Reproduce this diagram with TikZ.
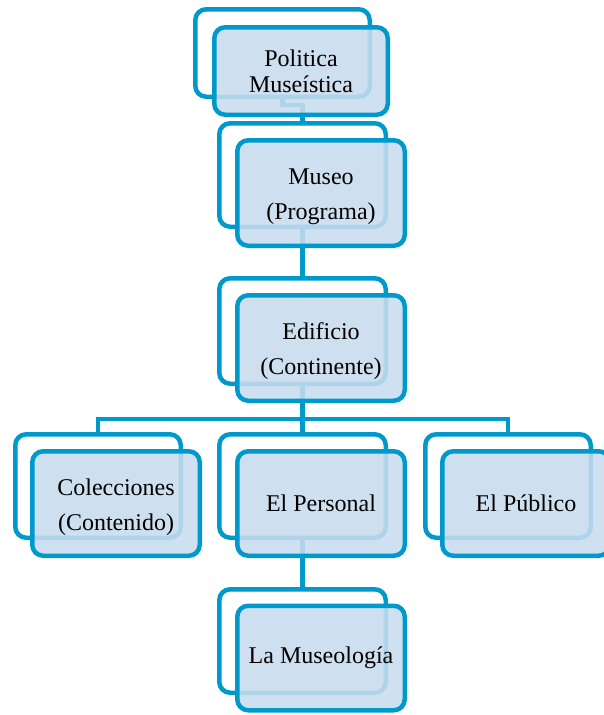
\documentclass[tikz,border=0pt]{standalone}
\usepackage{fontspec}
\setmainfont{Liberation Serif}
\definecolor{smblue}{RGB}{0,153,204}
\definecolor{smfill}{RGB}{200,220,238}
\newcommand{\twolines}[2]{\raisebox{-4pt}[\height][\depth]{\begin{tabular}{@{}c@{}}#1\\[9pt]#2\end{tabular}}}
\tikzset{
  backbox/.style={draw=smblue, line width=4.5pt, fill=white, rounded corners=11pt,
    inner sep=0pt, minimum width=#1-4.5pt},
  frontbox/.style={draw=smblue, line width=4.5pt, fill=smfill, fill opacity=0.88,
    text opacity=1, rounded corners=11pt, inner sep=0pt, minimum width=#1-4.5pt,
    align=center, font=\fontsize{24}{26}\selectfont},
  conn/.style={draw=smblue, line width=4.5pt}
}
\begin{document}
\begin{tikzpicture}[x=1pt,y=-1pt]
\useasboundingbox (0,0) rectangle (604,715);
% back frames
\node[backbox=179, minimum height=87.5pt] (polb) at (282.5,53) {};
\node[backbox=171, minimum height=103.5pt] (musb) at (302.5,175) {};
\node[backbox=171, minimum height=105.5pt] (edib) at (302.5,331) {};
\node[backbox=170, minimum height=103.5pt] (colb) at (98,486) {};
\node[backbox=171, minimum height=103.5pt] (perb) at (302.5,486) {};
\node[backbox=170, minimum height=103.5pt] (pubb) at (508,486) {};
\node[backbox=171, minimum height=103.5pt] (museob) at (302.5,641) {};
% connectors
\coordinate (bus) at (302.5,419);
\draw[conn] (polb.south) -- ++(0,6) -| (musb.north);
\draw[conn] (musb.south) -- (edib.north);
\draw[conn] (edib.south) -- (perb.north);
\draw[conn] (colb.north) |- (bus) -| (pubb.north);
\draw[conn] (perb.south) -- (museob.north);
% front boxes
\node[frontbox=178, minimum height=87.5pt] (polf) at (301,71) {Politica\\Museística};
\node[frontbox=172, minimum height=105.5pt] (musf) at (321,193) {\twolines{Museo}{(Programa)}};
\node[frontbox=172, minimum height=105.5pt] (edif) at (321,348) {\twolines{Edificio}{(Continente)}};
\node[frontbox=172, minimum height=104.5pt] (colf) at (116,503.5) {\twolines{Colecciones}{(Contenido)}};
\node[frontbox=172, minimum height=104.5pt] (perf) at (321,503.5) {El Personal};
\node[frontbox=172, minimum height=104.5pt] (pubf) at (526,503.5) {El Público};
\node[frontbox=172, minimum height=104.5pt] (museof) at (321,658) {La Museología};
\end{tikzpicture}
\end{document}
